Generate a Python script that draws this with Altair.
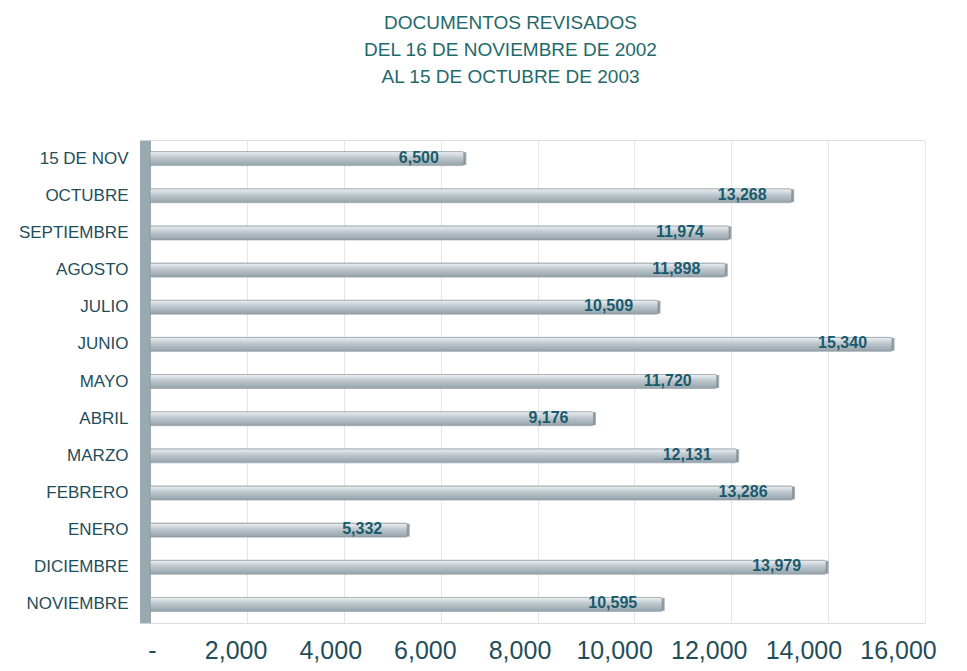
import altair as alt
import pandas as pd

months = ["15 DE NOV", "OCTUBRE", "SEPTIEMBRE", "AGOSTO", "JULIO", "JUNIO", "MAYO",
          "ABRIL", "MARZO", "FEBRERO", "ENERO", "DICIEMBRE", "NOVIEMBRE"]
values = [6500, 13268, 11974, 11898, 10509, 15340, 11720, 9176, 12131, 13286, 5332, 13979, 10595]
x_ticks = [0, 2000, 4000, 6000, 8000, 10000, 12000, 14000, 16000]
title_lines = ["DOCUMENTOS REVISADOS", "DEL 16 DE NOVIEMBRE DE 2002", "AL 15 DE OCTUBRE DE 2003"]

df = pd.DataFrame({"mes": months, "docs": values})

sans = "Liberation Sans, Arial, sans-serif"

x_enc = alt.X("docs:Q",
              scale=alt.Scale(domain=[0, 16000], nice=False),
              axis=alt.Axis(values=x_ticks, title=None, grid=True, gridColor="#e4e6e8",
                            labelExpr="datum.value == 0 ? '-' : format(datum.value, ',')",
                            labelFont=sans, labelFontSize=25, labelColor="#1f4e5a",
                            labelPadding=15, labelFlush=False,
                            labelOffset={"expr": "datum.value == 0 ? 2 : -9 - datum.value / 16000 * 18"},
                            ticks=False, domain=False, labelOverlap=False))
y_enc = alt.Y("mes:N", sort=months,
              scale=alt.Scale(paddingOuter=0.0, paddingInner=0.0),
              axis=alt.Axis(title=None, labelFont=sans,
                            labelFontSize=17, labelColor="#1f4e5a", labelPadding=17,
                            ticks=False, domain=True, domainColor="#98a9b0",
                            domainWidth=11, offset=5, grid=False))

bar_fill = alt.Gradient(
    gradient="linear",
    stops=[alt.GradientStop(color="#eef1f3", offset=0),
           alt.GradientStop(color="#bcc6cc", offset=0.45),
           alt.GradientStop(color="#95a2aa", offset=1)],
    x1=0, x2=0, y1=0, y2=1)

bars = alt.Chart(df).mark_bar(size=14, fill=bar_fill, stroke="#8e9aa2", strokeWidth=0.7,
                              cornerRadiusEnd=3).encode(x=x_enc, y=y_enc)

caps = alt.Chart(df).mark_tick(orient="vertical", size=13, thickness=3, color="#7f8c94").encode(
    x="docs:Q", y=alt.Y("mes:N", sort=months))

labels = alt.Chart(df).mark_text(align="right", baseline="middle", dx=-26, dy=-1,
                                 font=sans, fontSize=16,
                                 fontWeight="bold", color="#1b5a6c").encode(
    x="docs:Q", y=alt.Y("mes:N", sort=months), text=alt.Text("docs:Q", format=","))

chart = (bars + caps + labels).properties(
    width=775, height=483,
    padding={"left": 142, "top": 132, "right": 30, "bottom": 40},
    autosize=alt.AutoSizeParams(type="none"),
    title=alt.TitleParams(text=title_lines, font=sans, fontSize=19, fontWeight="normal",
                          color="#1f6a6a", lineHeight=27, anchor="middle", dx=-27, offset=53),
).configure_view(stroke="#cfd4d7", strokeWidth=1).configure(background="white")

chart.save("out.html", embed_options={"renderer": "svg", "actions": False})
